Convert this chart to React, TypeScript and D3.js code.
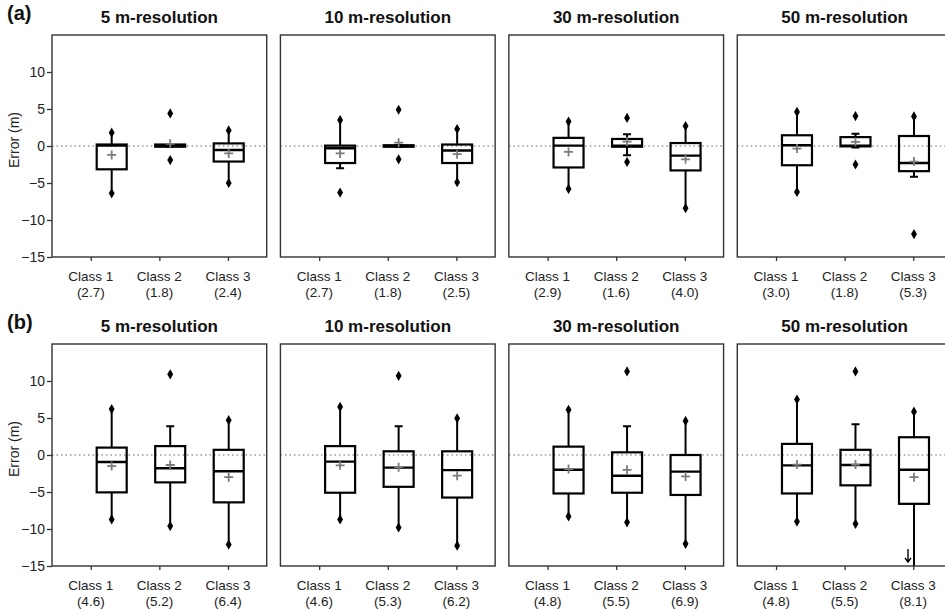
import React, { useEffect, useRef } from 'react';
import * as d3 from 'd3';

const resolutions = ["5 m-resolution", "10 m-resolution", "30 m-resolution", "50 m-resolution"];
const classes = ["Class 1", "Class 2", "Class 3"];
const rowLabels = ["(a)", "(b)"];
const yTicks = [-15, -10, -5, 0, 5, 10];

// one row per panel: (a) 5, 10, 30, 50 m, then (b) 5, 10, 30, 50 m
const rmse = [
    ["2.7", "1.8", "2.4"], ["2.7", "1.8", "2.5"], ["2.9", "1.6", "4.0"], ["3.0", "1.8", "5.3"],
    ["4.6", "5.2", "6.4"], ["4.6", "5.3", "6.2"], ["4.8", "5.5", "6.9"], ["4.8", "5.5", "8.1"],
];
const q1 = [
    [-3.15, -0.1, -2.1], [-2.3, -0.1, -2.3], [-2.9, -0.1, -3.3], [-2.6, -0.05, -3.4],
    [-5.05, -3.7, -6.4], [-5.1, -4.3, -5.75], [-5.2, -5.1, -5.4], [-5.2, -4.1, -6.6],
];
const median = [
    [0.05, 0.05, -0.55], [-0.3, 0, -0.6], [0.05, 0.05, -1.3], [0.1, 0.05, -2.3],
    [-0.95, -1.8, -2.2], [-0.9, -1.7, -2.05], [-2.0, -2.8, -2.25], [-1.4, -1.35, -2.0],
];
const q3 = [
    [0.2, 0.2, 0.35], [0.05, 0.1, 0.2], [1.1, 0.95, 0.4], [1.45, 1.2, 1.35],
    [1.0, 1.2, 0.7], [1.2, 0.5, 0.5], [1.13, 0.36, 0.0], [1.5, 0.7, 2.4],
];
const whiskerLow = [
    [-6.4, -0.1, -5.0], [-3.0, -0.1, -4.9], [-5.8, -1.25, -8.4], [-6.2, -0.2, -4.15],
    [-8.7, -9.6, -12.1], [-8.7, -9.8, -12.25], [-8.3, -9.1, -12.0], [-9.0, -9.3, -20],
];
const whiskerHigh = [
    [1.8, 0.2, 2.1], [3.5, 0.1, 2.3], [3.3, 1.6, 2.7], [4.6, 1.65, 4.0],
    [6.2, 3.9, 4.7], [6.5, 3.9, 4.95], [6.1, 3.9, 4.6], [7.5, 4.15, 5.85],
];
const minValues = [
    [-6.4, -1.9, -5.0], [-6.3, -1.8, -4.9], [-5.8, -2.15, -8.4], [-6.2, -2.5, -11.9],
    [-8.7, -9.6, -12.1], [-8.7, -9.8, -12.25], [-8.3, -9.1, -12.0], [-9.0, -9.3, -20],
];
const maxValues = [
    [1.8, 4.4, 2.1], [3.5, 4.9, 2.3], [3.3, 3.8, 2.7], [4.6, 4.05, 4.0],
    [6.2, 10.9, 4.7], [6.5, 10.7, 4.95], [6.1, 11.3, 4.6], [7.5, 11.3, 5.85],
];
const meanValues = [
    [-1.2, 0.3, -1.0], [-1.0, 0.45, -1.1], [-0.8, 0.6, -1.8], [-0.35, 0.55, -2.1],
    [-1.5, -1.35, -3.0], [-1.4, -1.65, -2.8], [-1.9, -2.0, -2.9], [-1.3, -1.3, -3.0],
];

function App() {
    const ref = useRef<SVGSVGElement>(null);

    useEffect(() => {
        const svg = d3.select(ref.current);
        svg.selectAll("*").remove();

        const font = "'Liberation Sans', Arial, sans-serif";
        const rowTop = [35, 344];
        const plotH = 222;
        const boxW = 30;
        const capW = 8;

        const panelX = d3.scaleBand().domain(resolutions).range([52, 952]).paddingInner(0.06);
        const iw = panelX.bandwidth();
        const y = d3.scaleLinear().domain([-15, 15]).range([plotH, 0]);
        const xTick = d3.scalePoint().domain(classes).range([0, iw]).padding(0.565);
        // boxes sit a little right of their ticks in the original figure
        const xBox = d3.scalePoint().domain(classes).range([iw * 0.278, iw * 0.823]);

        rowLabels.forEach((label, r) => {
            svg.append("text")
                .attr("x", 7)
                .attr("y", rowTop[r] - 15)
                .attr("font-family", font)
                .attr("font-weight", "bold")
                .attr("font-size", 20)
                .attr("fill", "#111")
                .text(label);

            svg.append("text")
                .attr("transform", `translate(19,${rowTop[r] + plotH / 2 - 6}) rotate(-90)`)
                .attr("text-anchor", "middle")
                .attr("font-family", font)
                .attr("font-size", 14)
                .attr("fill", "#222")
                .text("Error (m)");

            resolutions.forEach((res, p) => {
                const idx = r * 4 + p;
                const g = svg.append("g").attr("transform", `translate(${panelX(res)},${rowTop[r]})`);

                const clipId = `clip-${idx}`;
                g.append("clipPath").attr("id", clipId)
                    .append("rect").attr("width", iw).attr("height", plotH);

                g.append("text")
                    .attr("x", iw / 2)
                    .attr("y", -12)
                    .attr("text-anchor", "middle")
                    .attr("font-family", font)
                    .attr("font-weight", "bold")
                    .attr("font-size", 17)
                    .attr("fill", "#111")
                    .text(res);

                g.append("line")
                    .attr("x1", 0).attr("x2", iw)
                    .attr("y1", y(0)).attr("y2", y(0))
                    .attr("stroke", "#666")
                    .attr("stroke-width", 1.2)
                    .attr("stroke-dasharray", "1.5,3");

                const boxes = g.append("g").attr("clip-path", `url(#${clipId})`);

                classes.forEach((c, k) => {
                    const cx = xBox(c) as number;
                    const b = boxes.append("g").attr("stroke", "#000").attr("fill", "none");

                    b.append("line")
                        .attr("x1", cx).attr("x2", cx)
                        .attr("y1", y(q3[idx][k])).attr("y2", y(whiskerHigh[idx][k]))
                        .attr("stroke-width", 2);
                    b.append("line")
                        .attr("x1", cx).attr("x2", cx)
                        .attr("y1", y(q1[idx][k])).attr("y2", y(whiskerLow[idx][k]))
                        .attr("stroke-width", 2);

                    if (whiskerHigh[idx][k] !== maxValues[idx][k]) {
                        b.append("line")
                            .attr("x1", cx - capW / 2).attr("x2", cx + capW / 2)
                            .attr("y1", y(whiskerHigh[idx][k])).attr("y2", y(whiskerHigh[idx][k]))
                            .attr("stroke-width", 2);
                    }
                    if (whiskerLow[idx][k] !== minValues[idx][k]) {
                        b.append("line")
                            .attr("x1", cx - capW / 2).attr("x2", cx + capW / 2)
                            .attr("y1", y(whiskerLow[idx][k])).attr("y2", y(whiskerLow[idx][k]))
                            .attr("stroke-width", 2);
                    }

                    b.append("rect")
                        .attr("x", cx - boxW / 2)
                        .attr("y", y(q3[idx][k]))
                        .attr("width", boxW)
                        .attr("height", Math.max(y(q1[idx][k]) - y(q3[idx][k]), 1))
                        .attr("stroke-width", 2.2);

                    b.append("line")
                        .attr("x1", cx - boxW / 2).attr("x2", cx + boxW / 2)
                        .attr("y1", y(median[idx][k])).attr("y2", y(median[idx][k]))
                        .attr("stroke-width", 2.4);

                    const my = y(meanValues[idx][k]);
                    b.append("path")
                        .attr("d", `M${cx - 4.5},${my}H${cx + 4.5}M${cx},${my - 4.5}V${my + 4.5}`)
                        .attr("stroke", "#7a7a7a")
                        .attr("stroke-width", 1.8);

                    [minValues[idx][k], maxValues[idx][k]].forEach(v => {
                        if (v < -15 || v > 15) return;
                        b.append("path")
                            .attr("d", d3.symbol().type(d3.symbolDiamond).size(30)())
                            .attr("transform", `translate(${cx},${y(v)})`)
                            .attr("fill", "#000")
                            .attr("stroke", "none");
                    });

                    if (minValues[idx][k] < -15) {
                        const ax = cx - 6;
                        const ay = y(-15) - 4;
                        g.append("path")
                            .attr("d", `M${ax},${ay - 13}V${ay}M${ax - 3},${ay - 4}L${ax},${ay}L${ax + 3},${ay - 4}`)
                            .attr("stroke", "#000")
                            .attr("stroke-width", 1.4)
                            .attr("fill", "none");
                    }
                });

                g.append("rect")
                    .attr("width", iw)
                    .attr("height", plotH)
                    .attr("fill", "none")
                    .attr("stroke", "#333")
                    .attr("stroke-width", 1.4);

                const xAxis = g.append("g")
                    .attr("transform", `translate(0,${plotH})`)
                    .call(d3.axisBottom(xTick).tickSize(4).tickFormat(() => ""));
                xAxis.select(".domain").remove();
                xAxis.selectAll("line").attr("stroke", "#333").attr("stroke-width", 1.3);

                classes.forEach((c, k) => {
                    g.append("text")
                        .attr("x", xTick(c))
                        .attr("y", plotH + 24)
                        .attr("text-anchor", "middle")
                        .attr("font-family", font)
                        .attr("font-size", 13.5)
                        .attr("fill", "#222")
                        .text(c);
                    g.append("text")
                        .attr("x", xTick(c))
                        .attr("y", plotH + 39.5)
                        .attr("text-anchor", "middle")
                        .attr("font-family", font)
                        .attr("font-size", 13.5)
                        .attr("fill", "#222")
                        .text(`(${rmse[idx][k]})`);
                });

                if (p === 0) {
                    const yAxis = g.append("g")
                        .call(d3.axisLeft(y).tickValues(yTicks).tickSize(5).tickPadding(2));
                    yAxis.select(".domain").remove();
                    yAxis.selectAll("line").attr("stroke", "#333").attr("stroke-width", 1.3);
                    yAxis.selectAll("text")
                        .attr("font-family", font)
                        .attr("font-size", 14)
                        .attr("fill", "#222");
                }
            });
        });
    }, []);

    return (
        <svg ref={ref} width={945} height={609}
            style={{ position: 'absolute', left: 0, top: 0, background: '#fff' }} />
    );
}

export default App;
